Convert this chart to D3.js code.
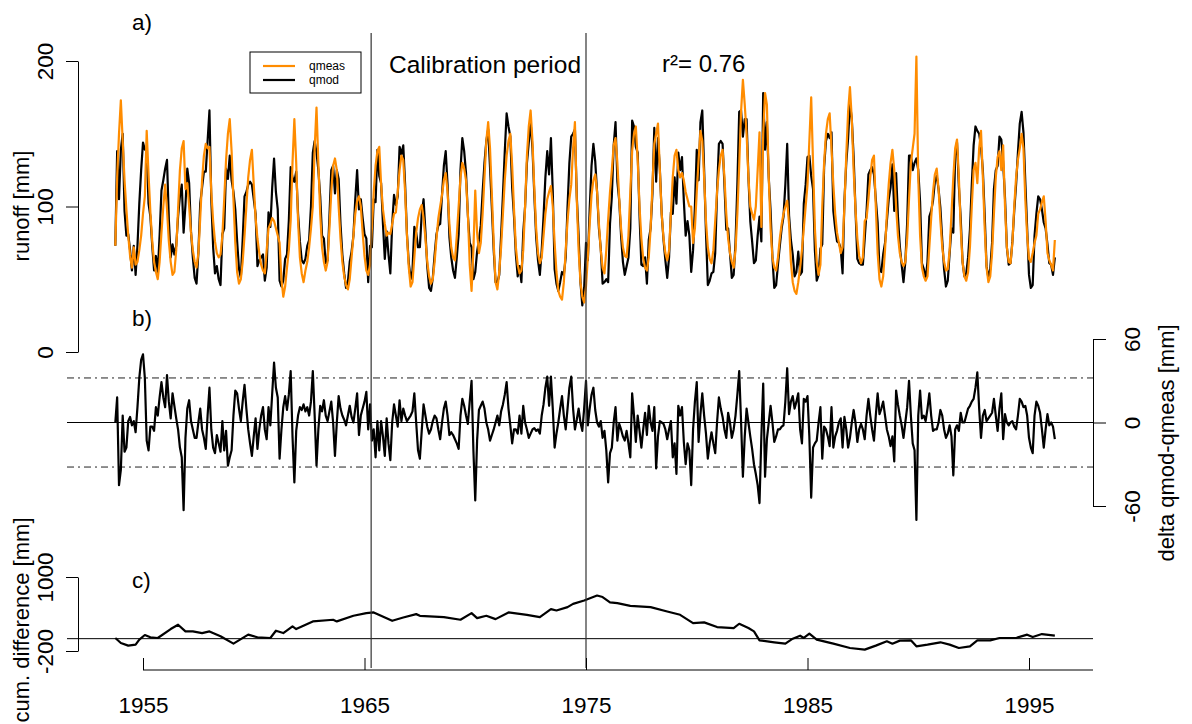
<!doctype html>
<html lang="en">
<head>
<meta charset="utf-8">
<title>Runoff calibration</title>
<script src="https://cdnjs.cloudflare.com/ajax/libs/d3/7.8.5/d3.min.js"></script>
<style>
  body { margin: 0; background: #fff; }
  svg text { font-family: "Liberation Sans", Arial, sans-serif; fill: #000; }
</style>
</head>
<body>
<svg id="chart" width="1192" height="724"></svg>
<script>
// monthly series, first value = Oct 1953
var startYear = 1953.75;

// measured runoff [mm], one row per hydrological year
var qmeas = [
  73,120,150,173,145,118,98,80,66,58,72,60,
  62,70,80,95,107,152,122,96,76,62,55,50,
  62,82,100,115,98,76,62,53,55,70,98,125,
  140,145,112,116,100,82,70,62,58,68,92,118,
  135,143,140,141,110,90,76,68,65,67,80,105,
  132,150,160,138,105,75,55,47,50,62,80,100,
  120,132,139,115,92,78,68,60,56,54,70,85,
  88,92,90,85,80,75,50,38,45,58,70,90,
  130,160,130,90,65,54,48,56,62,72,85,100,
  140,168,130,95,72,62,56,62,85,110,128,133,
  125,100,78,62,52,46,43,50,65,80,95,104,
  107,100,82,66,56,53,60,85,110,128,138,141,
  115,98,88,80,82,81,88,95,96,110,125,135,
  132,110,80,58,45,48,65,82,92,98,101,92,
  78,62,52,47,50,62,78,92,100,108,118,123,
  110,88,72,65,63,80,100,120,130,126,118,95,
  60,42,70,111,82,68,75,95,120,145,158,140,
  108,75,48,43,55,72,95,118,135,145,150,128,
  98,72,60,54,56,70,100,135,155,166,145,112,
  85,68,61,65,80,95,105,110,114,100,75,55,
  42,38,36,48,70,90,105,115,140,158,105,70,
  48,38,34,45,65,88,108,118,122,110,88,70,
  58,54,70,91,110,125,142,147,130,105,85,72,
  66,65,80,110,138,150,155,132,100,78,64,58,
  56,65,85,115,143,150,157,125,95,78,68,63,
  70,95,120,135,139,125,120,123,118,110,105,100,
  100,75,85,110,132,152,145,120,90,72,64,61,
  70,90,110,125,135,139,120,95,78,68,62,58,
  70,95,128,165,187,170,150,120,100,95,91,100,
  125,151,86,150,178,170,120,85,65,58,56,65,
  78,88,95,100,104,88,62,48,42,40,48,58,
  70,85,100,115,145,175,130,85,62,53,60,100,
  130,150,160,164,140,115,95,82,75,68,72,100,
  135,165,182,160,125,98,78,66,61,65,90,92,
  105,120,132,135,100,68,50,45,52,70,95,115,
  130,139,125,100,80,68,62,59,62,78,105,130,
  140,150,203,120,80,58,52,49,52,72,92,110,
  122,126,112,90,72,62,56,57,70,95,120,140,
  146,120,85,62,52,49,55,72,100,125,130,116,
  140,152,120,85,58,48,52,68,95,120,134,138,
  125,142,100,72,62,61,75,100,120,132,140,150,
  140,105,80,64,62,68,75,80,95,98,103,107,
  90,68,63,60,56,77
];

// qmod - qmeas [mm], same months
var delta = [
  0,18,-45,-34,5,-21,-18,1,4,-2,1,-7,
  11,32,45,49,32,-13,-20,-3,-3,-6,11,5,
  18,29,18,11,34,15,3,21,12,3,-5,-18,
  -25,-63,-11,10,16,1,-5,-11,-11,0,10,-5,
  -11,-19,5,25,-5,-18,-22,-9,-15,-21,1,-20,
  -6,-31,-25,-20,5,23,21,10,1,15,27,10,
  -5,-15,-24,-10,3,-19,-5,5,11,-5,-12,11,
  -2,21,43,25,18,-26,-5,11,19,9,20,37,
  -10,-43,-6,5,11,9,13,8,11,5,15,37,
  5,-31,-5,12,8,16,5,1,8,15,0,-24,
  0,19,10,5,2,-2,5,12,4,0,10,21,
  -9,5,10,15,22,-5,13,-13,-5,-25,1,-20,
  1,-10,-24,3,-15,-27,0,13,5,-3,16,1,
  10,5,1,3,5,8,21,0,-20,-26,-6,13,
  5,-3,-8,-5,1,5,3,-5,-12,0,10,15,
  5,-9,-7,-9,-12,-15,-19,5,17,12,5,-1,
  15,30,-20,-56,-13,9,12,15,10,0,-5,-13,
  -9,-5,0,5,-2,8,13,20,29,10,-2,-15,
  -5,-5,-8,5,-8,12,0,-5,-11,-8,-5,-4,
  -6,-5,-8,5,13,25,33,12,33,10,-18,-8,
  0,10,19,5,-5,10,25,33,10,-5,2,10,
  0,-6,10,30,-2,10,20,25,9,0,-3,1,
  -11,-6,-20,-43,-22,-18,0,11,-13,-1,-5,-10,
  -13,-6,-15,-25,21,5,-14,5,-6,-18,-5,7,
  -9,12,0,-6,11,-33,-10,1,0,-1,-5,-12,
  -5,1,-25,-15,-37,12,5,11,-14,-30,-15,-20,
  -45,-5,15,29,-14,6,21,5,-8,-26,-15,-7,
  -15,-22,0,18,10,4,-5,-11,7,0,-11,-5,
  5,20,37,1,-39,-10,10,0,-10,-19,-30,-37,
  -45,-58,-10,28,-39,-12,0,12,0,-14,-10,-5,
  -5,-3,-2,15,39,6,15,19,10,15,21,-5,
  -15,17,15,19,-10,-54,-18,-15,-13,0,11,-26,
  -3,-5,-10,-17,11,-18,-10,-6,0,3,-18,4,
  -5,-18,-11,0,9,0,-14,-5,-1,-5,-12,5,
  17,5,-5,-13,5,21,6,10,15,5,-5,-10,
  -17,-10,-28,23,13,5,-2,-11,0,11,30,5,
  -15,-20,-70,5,23,3,5,1,10,21,5,-6,
  -5,-5,0,9,5,-5,-11,-8,-2,-10,-38,-5,
  -2,-6,7,0,0,5,10,12,15,17,25,36,
  10,-11,5,9,1,3,5,7,17,5,-6,10,
  21,-12,6,0,-2,0,1,-3,-5,5,17,15,
  11,12,5,-11,-18,-22,5,15,12,7,-5,-18,
  -5,6,-2,0,-3,-12
];

// cumulative difference [mm], read at these month numbers
var cumMonth = [0,3,7,11,13,16,19,23,30,34,38,42,47,51,57,64,72,77,84,87,91,96,98,107,118,120,129,136,140,150,
  156,163,165,178,187,193,196,201,206,213,223,230,236,239,245,248,254,261,264,268,272,279,290,299,306,313,319,326,335,338,
  343,346,349,357,363,367,371,373,376,380,389,398,406,412,418,421,425,431,434,440,447,452,457,463,467,474,479,488,494,497,502,509];
var cumValue = [10,-70,-113,-97,-16,59,22,11,156,226,118,118,91,118,38,-81,65,22,11,129,91,199,156,280,307,280,371,414,425,290,
  344,398,371,350,307,414,334,371,317,425,387,350,479,457,511,565,619,700,675,590,576,533,511,441,387,253,264,188,172,242,
  172,118,-27,-59,-81,0,48,11,81,-16,-81,-151,-178,-113,-43,-81,-32,-27,-124,-97,-59,-97,-151,-124,-27,-27,11,11,65,27,75,48];

var yearTicks = [1955, 1965, 1975, 1985, 1995];
var runoffTicks = [0, 100, 200];
var deltaTicks = [-60, 0, 60];
var cumTicks = [-200, 1000];
var calibration = [1965.3, 1975.0];
var deltaBand = 32;
var rSquared = "0.76";

var months = qmeas.map(function(v, i) {
  return { t: startYear + i / 12, qmeas: v, qmod: v + delta[i], delta: delta[i] };
});
var cum = cumMonth.map(function(m, i) { return { t: startYear + m / 12, v: cumValue[i] }; });

var svg = d3.select("#chart");
var x = d3.scaleLinear().domain([1955, 1995]).range([143, 1029]);
var yA = d3.scaleLinear().domain([0, 200]).range([352, 61]);
var yB = d3.scaleLinear().domain([-60, 60]).range([506, 339]);
var yC = d3.scaleLinear().domain([-200, 1000]).range([651, 577]);
var left = 67, right = 1093;
var tickFont = "22.5px", titleFont = "22px";
var plain = function(d) { return String(d); };

// rotated tick labels, R style (parallel to axis)
function styleLeft(g, off) {
  g.select(".domain").attr("stroke", "#000");
  g.selectAll(".tick line").attr("stroke", "#000");
  g.selectAll(".tick text")
    .attr("transform", "rotate(-90)")
    .attr("x", 0).attr("y", -off).attr("dy", 0)
    .style("text-anchor", "middle").style("font-size", tickFont);
}

// panel a
svg.append("g").attr("transform", "translate(78,0)")
  .call(d3.axisLeft(yA).tickValues(runoffTicks).tickFormat(plain).tickSize(12).tickSizeOuter(0))
  .call(function(g) { styleLeft(g, 25); });

var lineA = function(key) {
  return d3.line().x(function(d) { return x(d.t); }).y(function(d) { return yA(d[key]); });
};
svg.append("path").datum(months)
  .attr("fill", "none").attr("stroke", "#000").attr("stroke-width", 2.2)
  .attr("stroke-linejoin", "round").attr("d", lineA("qmod"));
svg.append("path").datum(months)
  .attr("fill", "none").attr("stroke", "#ff8c00").attr("stroke-width", 2.2)
  .attr("stroke-linejoin", "round").attr("d", lineA("qmeas"));

svg.append("text").attr("transform", "translate(29,206) rotate(-90)")
  .style("text-anchor", "middle").style("font-size", titleFont).text("runoff [mm]");
svg.append("text").attr("x", 132).attr("y", 30).style("font-size", tickFont).text("a)");

// legend
var leg = svg.append("g");
leg.append("rect").attr("x", 250).attr("y", 52).attr("width", 111).attr("height", 41)
  .attr("fill", "#fff").attr("stroke", "#000").attr("stroke-width", 1);
[["qmeas", "#ff8c00", 66], ["qmod", "#000", 80]].forEach(function(l) {
  leg.append("line").attr("x1", 263).attr("x2", 295).attr("y1", l[2]).attr("y2", l[2])
    .attr("stroke", l[1]).attr("stroke-width", 2.2);
  leg.append("text").attr("x", 309).attr("y", l[2] + 4).style("font-size", "12px").text(l[0]);
});

svg.append("text").attr("x", 389).attr("y", 73).style("font-size", "24.5px").text("Calibration period");
svg.append("text").attr("x", 662).attr("y", 72).style("font-size", "24px").text("r\u00b2= " + rSquared);

// panel b
svg.append("line").attr("x1", left).attr("x2", right).attr("y1", yB(0)).attr("y2", yB(0))
  .attr("stroke", "#000").attr("stroke-width", 1);
[deltaBand, -deltaBand].forEach(function(v) {
  svg.append("line").attr("x1", left).attr("x2", right).attr("y1", yB(v)).attr("y2", yB(v))
    .attr("stroke", "#222").attr("stroke-width", 1).attr("stroke-dasharray", "7,4,2,4");
});
svg.append("path").datum(months)
  .attr("fill", "none").attr("stroke", "#000").attr("stroke-width", 2.2)
  .attr("stroke-linejoin", "round")
  .attr("d", d3.line().x(function(d) { return x(d.t); }).y(function(d) { return yB(d.delta); }));

var gB = svg.append("g").attr("transform", "translate(" + right + ",0)")
  .call(d3.axisRight(yB).tickValues(deltaTicks).tickFormat(plain).tickSize(13).tickSizeOuter(0));
gB.select(".domain").attr("stroke", "#000");
gB.selectAll(".tick line").attr("stroke", "#000");
gB.selectAll(".tick text")
  .attr("transform", "rotate(-90)").attr("x", 0).attr("y", 47).attr("dy", 0)
  .style("text-anchor", "middle").style("font-size", tickFont);
svg.append("text").attr("transform", "translate(1174,443) rotate(-90)")
  .style("text-anchor", "middle").style("font-size", titleFont).text("delta qmod-qmeas [mm]");
svg.append("text").attr("x", 132).attr("y", 326).style("font-size", tickFont).text("b)");

// panel c
svg.append("line").attr("x1", left).attr("x2", right).attr("y1", yC(0)).attr("y2", yC(0))
  .attr("stroke", "#000").attr("stroke-width", 1);
svg.append("path").datum(cum)
  .attr("fill", "none").attr("stroke", "#000").attr("stroke-width", 2.2)
  .attr("stroke-linejoin", "round")
  .attr("d", d3.line().x(function(d) { return x(d.t); }).y(function(d) { return yC(d.v); }));
svg.append("g").attr("transform", "translate(78,0)")
  .call(d3.axisLeft(yC).tickValues(cumTicks).tickFormat(plain).tickSize(12).tickSizeOuter(0))
  .call(function(g) { styleLeft(g, 25); });
svg.append("text").attr("transform", "translate(29,620) rotate(-90)")
  .style("text-anchor", "middle").style("font-size", titleFont).text("cum. difference [mm]");
svg.append("text").attr("x", 132).attr("y", 588).style("font-size", tickFont).text("c)");

// calibration period boundaries
calibration.forEach(function(t) {
  svg.append("line").attr("x1", x(t)).attr("x2", x(t)).attr("y1", 33).attr("y2", 668)
    .attr("stroke", "#333").attr("stroke-width", 1.2);
});

// time axis
var gX = svg.append("g").attr("transform", "translate(0,670)")
  .call(d3.axisBottom(x).tickValues(yearTicks).tickFormat(plain).tickSize(-12).tickSizeOuter(0));
gX.select(".domain").attr("stroke", "#000")
  .attr("d", "M" + x(yearTicks[0]) + ",0H" + right);
gX.selectAll(".tick line").attr("stroke", "#000");
gX.selectAll(".tick text").attr("y", 43).attr("dy", 0).style("font-size", tickFont);
</script>
</body>
</html>
